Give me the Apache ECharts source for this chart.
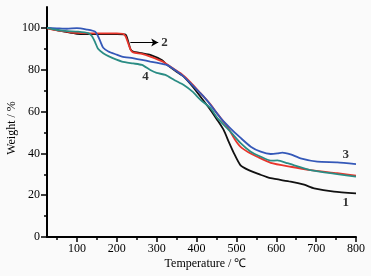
<!DOCTYPE html>
<html>
<head>
<meta charset="utf-8">
<script src="https://cdn.jsdelivr.net/npm/echarts@6/dist/echarts.min.js"></script>
<style>
  html, body { margin: 0; padding: 0; background: #fafafa; }
  #chart1 { width: 371px; height: 276px; }
</style>
</head>
<body>
<div id="chart1"></div>
<script>
// TGA curves, [temperature, weight %]
var curve1 = [[25,100],[50,99],[75,98],[100,97.2],[150,97],[200,97],[222,96.8],[228,94],[234,90],[241,88.7],[263,87.9],[284,87.1],[314,84.5],[326,82.3],[350,79],[368,76.7],[390,72],[410,67.1],[435,60.8],[452,56],[468,51.2],[482,45],[494,40],[510,34.4],[531,32],[560,29.8],[586,28.1],[636,26.5],[670,25],[695,23.3],[745,21.7],[800,20.9]];
var curve2 = [[25,99.8],[50,98.8],[75,98.2],[100,97.6],[150,97.4],[200,97.4],[215,97.2],[222,96],[228,93],[235,89.5],[241,88.3],[263,87.6],[284,86.3],[314,84],[340,80.8],[360,78.3],[385,74],[410,68.8],[435,63.5],[452,59],[477,52.8],[495,47],[510,43.2],[530,40.5],[552,38.4],[586,35.5],[636,33.6],[686,32],[753,30.5],[800,29.3]];
var curve3 = [[25,100],[50,99.8],[75,99.6],[100,99.9],[125,99.2],[146,98.2],[153,96],[160,93],[166,90.5],[179,88.7],[200,87.2],[213,86.3],[240,85.5],[263,84.7],[284,83.9],[314,82.8],[326,82.3],[345,80],[368,76.7],[390,72.5],[418,67.1],[435,63.2],[460,57],[485,52],[510,47.5],[536,43.2],[561,40.8],[586,39.7],[603,40],[615,40.4],[636,39.5],[661,37.6],[703,36],[753,35.7],[800,34.9]];
var curve4 = [[25,100],[50,99],[75,98.5],[103,98.2],[128,97.5],[138,96],[146,93],[153,90],[166,87.9],[179,86.5],[213,83.9],[241,83],[263,82.3],[284,79.9],[300,78.5],[322,77.5],[345,75],[368,72.7],[390,69.5],[410,65.6],[435,61.6],[452,57],[485,50.4],[510,45],[536,40.8],[560,38.5],[586,36.5],[603,36.6],[628,35.3],[686,32],[753,30.1],[800,28.9]];

var xMajor = [100, 200, 300, 400, 500, 600, 700, 800];
var xMinor = [50, 150, 250, 350, 450, 550, 650, 750];
var yMajor = [0, 20, 40, 60, 80, 100];
var yMinor = [10, 30, 50, 70, 90];

var tagText = ['1', '2', '3', '4'];
var tagPos = [[774, 16.5], [320, 93], [774, 39.5], [272, 76.5]];
var arrow2 = [[234, 93], [304, 93]];

var serif = 'Liberation Serif';
var myChart1 = echarts.init(document.getElementById('chart1'));

function lineSeries(name, data, color) {
    return {
        type: 'line',
        name: name,
        data: data,
        showSymbol: false,
        smooth: 0.2,
        lineStyle: { color: color, width: 1.8 },
        itemStyle: { color: color },
        animation: false
    };
}

var s2 = lineSeries('2', curve2, '#e8362c');
s2.markLine = {
    silent: true,
    symbol: ['none', 'arrow'],
    symbolSize: [6, 7],
    label: { show: false },
    lineStyle: { color: '#000', width: 1, type: 'solid' },
    data: [[{ coord: arrow2[0] }, { coord: arrow2[1] }]]
};

myChart1.setOption({
    backgroundColor: '#fafafa',
    animation: false,
    grid: { left: 47, right: 15, top: 7, bottom: 39, containLabel: false, outerBoundsMode: 'none' },
    xAxis: [{
        type: 'value', min: 25, max: 800,
        name: 'Temperature / \u2103', nameLocation: 'middle', nameGap: 21, nameMoveOverlap: false,
        nameTextStyle: { fontFamily: serif, fontSize: 12, color: '#000', padding: [0, 0, 0, 8] },
        axisLine: { show: true, onZero: false, lineStyle: { color: '#000', width: 2 } },
        axisTick: { show: true, inside: false, length: 5, customValues: xMajor, lineStyle: { color: '#000', width: 1.5 } },
        axisLabel: { customValues: xMajor, margin: 6, fontFamily: serif, fontSize: 12, color: '#000' },
        splitLine: { show: false }
    }, {
        type: 'value', min: 25, max: 800, position: 'bottom',
        axisLine: { show: false },
        axisTick: { show: true, inside: false, length: 3, customValues: xMinor, lineStyle: { color: '#000', width: 1.5 } },
        axisLabel: { show: false },
        splitLine: { show: false }
    }],
    yAxis: [{
        type: 'value', min: 0, max: 110,
        name: 'Weight / %', nameLocation: 'middle', nameGap: 29, nameRotate: 90, nameMoveOverlap: false,
        nameTextStyle: { fontFamily: serif, fontSize: 12, color: '#000', padding: [0, 12, 0, 0] },
        axisLine: { show: true, onZero: false, lineStyle: { color: '#000', width: 2 } },
        axisTick: { show: true, inside: false, length: 6, customValues: yMajor, lineStyle: { color: '#000', width: 1.5 } },
        axisLabel: { customValues: yMajor, margin: 7, fontFamily: serif, fontSize: 12, color: '#000' },
        splitLine: { show: false }
    }, {
        type: 'value', min: 0, max: 110, position: 'left',
        axisLine: { show: false },
        axisTick: { show: true, inside: false, length: 3, customValues: yMinor, lineStyle: { color: '#000', width: 1.5 } },
        axisLabel: { show: false },
        splitLine: { show: false }
    }],
    series: [
        lineSeries('1', curve1, '#111111'),
        s2,
        lineSeries('3', curve3, '#3458b8'),
        lineSeries('4', curve4, '#2a8c84'),
        {
            type: 'scatter',
            symbolSize: 0,
            silent: true,
            data: tagPos.map(function (p, i) { return { value: p, name: tagText[i] }; }),
            label: {
                show: true, position: 'inside', formatter: '{b}',
                fontFamily: serif, fontSize: 13, fontWeight: 'bold', color: '#000'
            }
        }
    ]
});

window.onresize = function () {
    myChart1.resize();
};
</script>
</body>
</html>
